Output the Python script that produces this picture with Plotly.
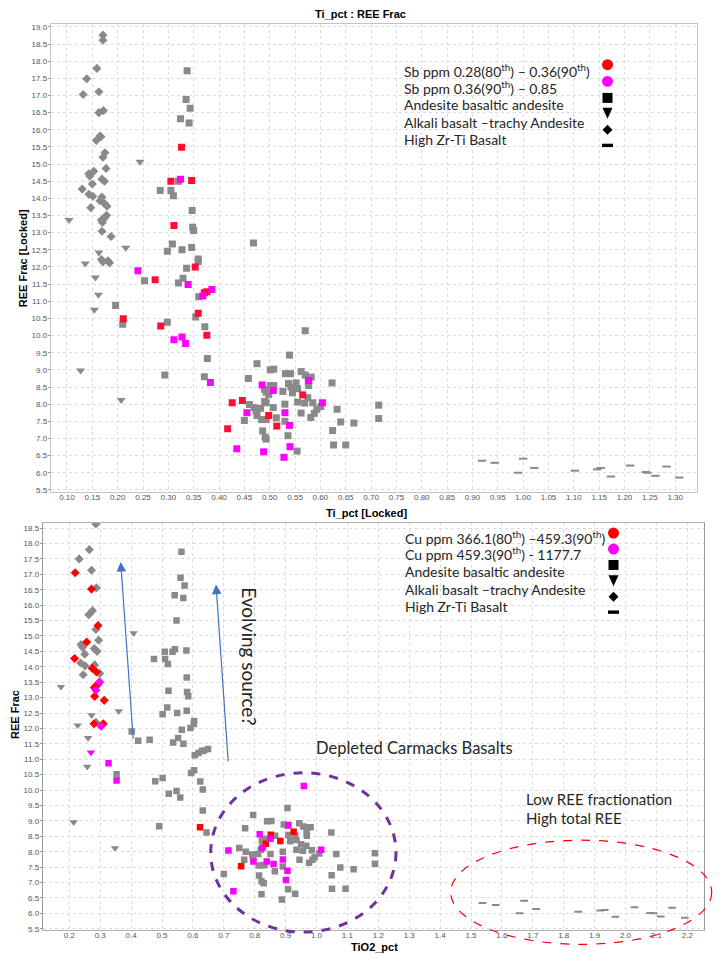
import plotly.graph_objects as go

# -- Top panel (Ti_pct vs REE Frac) --
top_sq_x = [0.337, 0.335, 0.343, 0.324, 0.341, 0.320, 0.284, 0.305, 0.310, 0.347, 0.348, 0.350, 0.468, 0.308,
            0.298, 0.327, 0.346, 0.359, 0.359, 0.336, 0.253, 0.320, 0.329, 0.360, 0.196, 0.210, 0.354, 0.372,
            0.298, 0.570, 0.377, 0.293, 0.371, 0.475, 0.539, 0.458, 0.501, 0.508, 0.531, 0.541, 0.562, 0.570,
            0.582, 0.537, 0.542, 0.501, 0.508, 0.490, 0.493, 0.552, 0.555, 0.577, 0.576, 0.526, 0.545, 0.555,
            0.569, 0.575, 0.585, 0.498, 0.490, 0.493, 0.460, 0.469, 0.473, 0.475, 0.482, 0.507, 0.530, 0.562,
            0.588, 0.593, 0.581, 0.601, 0.484, 0.493, 0.513, 0.530, 0.450, 0.486, 0.491, 0.493, 0.536, 0.554,
            0.623, 0.633, 0.640, 0.624, 0.626, 0.650, 0.666, 0.715, 0.715]
top_sq_y = [17.72, 16.88, 16.63, 16.32, 16.20, 14.50, 14.23, 14.23, 14.08, 13.65, 13.16, 13.06, 12.70, 12.67,
            12.46, 12.50, 12.57, 12.23, 12.16, 11.96, 11.60, 11.53, 11.67, 11.13, 10.88, 10.33, 10.54, 10.26,
            10.39, 10.14, 9.33, 8.85, 8.80, 9.18, 9.43, 8.75, 9.00, 9.02, 8.89, 8.89, 8.95, 8.85,
            8.79, 8.60, 8.50, 8.54, 8.54, 8.43, 8.35, 8.62, 8.45, 8.54, 8.64, 8.37, 8.33, 8.06,
            8.03, 8.19, 8.04, 8.28, 8.08, 8.04, 7.99, 7.90, 7.80, 7.67, 7.88, 7.90, 8.00, 7.74,
            7.73, 7.85, 7.61, 7.93, 7.55, 7.55, 7.60, 7.50, 7.52, 7.22, 7.04, 6.98, 7.08, 6.63,
            8.62, 7.85, 7.48, 7.23, 6.81, 6.81, 7.45, 7.97, 7.58]

top_dia_x = [0.171, 0.171, 0.159, 0.139, 0.132, 0.163, 0.172, 0.163, 0.165, 0.167, 0.158, 0.175, 0.171, 0.177,
             0.143, 0.145, 0.153, 0.169, 0.174, 0.150, 0.130, 0.143, 0.151, 0.169, 0.165, 0.174, 0.179, 0.147,
             0.178, 0.175, 0.168, 0.170, 0.169, 0.187, 0.168, 0.171, 0.181, 0.184]
top_dia_y = [18.76, 18.61, 17.79, 17.49, 17.03, 17.11, 16.56, 16.50, 15.82, 15.80, 15.69, 15.33, 15.20, 14.87,
             14.72, 14.65, 14.79, 14.56, 14.50, 14.42, 14.27, 14.12, 14.06, 14.04, 13.93, 13.85, 13.77, 13.73,
             13.51, 13.44, 13.37, 13.30, 13.04, 12.89, 12.22, 12.15, 12.18, 12.12]

top_tri_x = [0.104, 0.244, 0.216, 0.163, 0.136, 0.156, 0.162, 0.154, 0.127, 0.207]
top_tri_y = [13.37, 15.07, 12.56, 12.42, 12.10, 11.69, 11.19, 10.75, 8.98, 8.12]

top_red_x = [0.326, 0.305, 0.346, 0.311, 0.353, 0.274, 0.371, 0.376, 0.359, 0.211, 0.285, 0.376, 0.426, 0.446,
             0.565, 0.498, 0.514, 0.417]
top_red_y = [15.49, 14.50, 14.52, 13.21, 12.00, 11.63, 11.25, 11.28, 10.65, 10.49, 10.28, 10.01, 8.04, 8.11,
             8.27, 7.67, 7.36, 7.28]

top_mag_x = [0.324, 0.240, 0.339, 0.368, 0.386, 0.311, 0.327, 0.334, 0.383, 0.485, 0.507, 0.577, 0.604, 0.455,
             0.530, 0.539, 0.435, 0.488, 0.540, 0.528]
top_mag_y = [14.56, 11.89, 11.49, 11.15, 11.34, 9.88, 9.96, 9.77, 8.63, 8.56, 8.40, 8.69, 8.04, 7.75,
             7.75, 7.38, 6.70, 6.61, 6.76, 6.45]

top_dash_x = [0.919, 0.944, 1.000, 0.990, 1.022, 1.102, 1.146, 1.153, 1.173, 1.211, 1.242, 1.245, 1.261, 1.283,
              1.308]
top_dash_y = [6.35, 6.29, 6.41, 6.00, 6.14, 6.06, 6.10, 6.14, 5.89, 6.21, 6.02, 6.00, 5.91, 6.18, 5.86]

# -- Bottom panel (TiO2_pct vs REE Frac) --
bot_sq_x = [0.563, 0.560, 0.573, 0.541, 0.569, 0.547, 0.474, 0.509, 0.534, 0.542, 0.579, 0.510, 0.519, 0.580,
            0.521, 0.581, 0.585, 0.517, 0.502, 0.549, 0.580, 0.604, 0.603, 0.564, 0.592, 0.402, 0.423, 0.460,
            0.536, 0.552, 0.569, 0.606, 0.618, 0.629, 0.636, 0.649, 0.353, 0.478, 0.502, 0.594, 0.604, 0.624,
            0.632, 0.547, 0.522, 0.559, 0.632, 0.491, 0.644, 0.700, 0.769, 0.795, 0.840, 0.854, 0.906, 0.894,
            0.906, 0.909, 0.944, 0.957, 0.967, 0.981, 0.931, 0.935, 0.968, 0.969, 0.915, 0.854, 0.866, 0.823,
            0.835, 0.750, 0.771, 0.792, 0.811, 0.820, 0.828, 0.851, 0.891, 0.935, 0.950, 0.967, 0.956, 0.985,
            1.009, 0.994, 0.987, 0.976, 0.945, 0.766, 0.795, 0.813, 0.825, 0.832, 0.891, 0.865, 0.814, 0.822,
            0.829, 0.908, 0.931, 0.822, 0.888, 1.048, 1.064, 1.077, 1.049, 1.050, 1.094, 1.120, 1.189, 1.189]
bot_sq_y = [17.73, 16.89, 16.64, 16.32, 16.23, 15.50, 14.25, 14.49, 14.49, 14.57, 14.53, 14.25, 14.09, 13.65,
            13.22, 13.18, 13.04, 12.68, 12.46, 12.50, 12.57, 12.24, 12.14, 11.96, 12.01, 11.90, 11.60, 11.63,
            11.54, 11.69, 11.50, 11.13, 11.20, 11.27, 11.28, 11.33, 10.51, 10.29, 10.39, 10.55, 10.64, 10.28,
            10.02, 9.97, 9.88, 9.76, 9.34, 8.83, 8.62, 7.28, 8.76, 9.19, 8.99, 9.00, 9.42, 8.88,
            8.84, 8.54, 8.92, 8.82, 8.79, 8.79, 8.53, 8.38, 8.63, 8.52, 8.34, 8.53, 8.52, 8.36,
            8.42, 8.12, 8.00, 7.91, 7.93, 8.06, 8.17, 7.93, 8.00, 8.06, 8.24, 8.19, 8.03, 8.05,
            7.94, 7.82, 7.74, 7.64, 7.74, 7.74, 7.82, 7.55, 7.56, 7.57, 7.52, 7.37, 7.23, 7.04,
            6.98, 6.78, 6.64, 6.62, 6.45, 8.62, 7.93, 7.49, 7.24, 6.80, 6.80, 7.43, 7.95, 7.61]

bot_dia_x = [0.286, 0.265, 0.232, 0.272, 0.288, 0.275, 0.263, 0.286, 0.295, 0.238, 0.243, 0.281, 0.290, 0.250,
             0.237, 0.251, 0.282, 0.299, 0.245, 0.286]
bot_dia_y = [18.63, 17.80, 17.50, 17.13, 16.56, 15.82, 15.69, 15.21, 14.86, 14.72, 14.63, 14.59, 14.50, 14.41,
             14.12, 14.03, 14.06, 13.78, 13.74, 12.20]

bot_red_dia_x = [0.219, 0.272, 0.293, 0.256, 0.217, 0.274, 0.288, 0.281, 0.290, 0.296, 0.282, 0.313, 0.280, 0.310]
bot_red_dia_y = [17.05, 16.52, 15.34, 14.80, 14.27, 13.95, 13.83, 13.33, 13.40, 13.48, 13.04, 12.91, 12.15, 12.15]

bot_mag_dia_x = [0.298, 0.286, 0.303]
bot_mag_dia_y = [13.51, 13.24, 12.07]

bot_tri_x = [0.173, 0.408, 0.360, 0.272, 0.227, 0.261, 0.258, 0.214, 0.348]
bot_tri_y = [13.35, 15.09, 12.56, 12.43, 12.10, 11.69, 10.76, 8.96, 8.12]

bot_mag_tri_x = [0.270]
bot_mag_tri_y = [11.22]

bot_red_x = [0.623, 0.852, 0.836, 0.883, 0.926, 0.756]
bot_red_y = [8.79, 8.55, 8.26, 8.35, 8.65, 7.53]

bot_mag_x = [0.327, 0.353, 0.959, 0.816, 0.851, 0.909, 0.715, 0.824, 0.796, 0.839, 0.861, 0.891, 0.906, 0.901,
             1.015, 0.731]
bot_mag_y = [10.87, 10.31, 10.13, 8.57, 8.42, 8.87, 8.04, 8.12, 7.68, 7.68, 7.60, 7.75, 7.38, 7.08,
             8.06, 6.72]

bot_dash_x = [1.537, 1.580, 1.672, 1.657, 1.711, 1.847, 1.918, 1.933, 1.967, 2.029, 2.080, 2.091, 2.114, 2.151,
              2.192]
bot_dash_y = [6.34, 6.27, 6.41, 6.00, 6.14, 6.05, 6.09, 6.11, 5.89, 6.20, 6.01, 6.00, 5.90, 6.18, 5.86]

top_legend = ["Sb ppm 0.28(80<sup>th</sup>) \u2013 0.36(90<sup>th</sup>)",
              "Sb ppm 0.36(90<sup>th</sup>) \u2013 0.85",
              "Andesite basaltic andesite",
              "Alkali basalt \u2013trachy Andesite",
              "High Zr-Ti Basalt"]
bot_legend = ["Cu ppm 366.1(80<sup>th</sup>) \u2013459.3(90<sup>th</sup>)",
              "Cu ppm 459.3(90<sup>th</sup>) - 1177.7",
              "Andesite basaltic andesite",
              "Alkali basalt \u2013trachy Andesite",
              "High Zr-Ti Basalt"]

GRAY = '#8a8a8a'
RED = '#ff0d35'
MAG = '#ff00ff'
W, H = 720, 960
TXT_FONT = 'Lato'


def fx(p):
    return p / W


def fy(p):
    return 1 - p / H


def add_points(fig, x, y, symbol, color, size, axis):
    xa, ya = axis
    if symbol == 'line-ew':
        marker = dict(symbol=symbol, size=size, line=dict(color=color, width=2))
    else:
        marker = dict(symbol=symbol, size=size, color=color, line=dict(width=0))
    fig.add_trace(go.Scatter(x=x, y=y, mode='markers', marker=marker, xaxis=xa, yaxis=ya,
                             showlegend=False, hoverinfo='skip'))


def legend_keys(fig, cx, cys, r):
    # keys: red circle, magenta circle, square, triangle, diamond, dash
    shapes = []
    shapes.append(dict(type='circle', xref='paper', yref='paper', x0=fx(cx - r), x1=fx(cx + r),
                       y0=fy(cys[0] + r), y1=fy(cys[0] - r), fillcolor='#ff0000', line=dict(width=0)))
    shapes.append(dict(type='circle', xref='paper', yref='paper', x0=fx(cx - r), x1=fx(cx + r),
                       y0=fy(cys[1] + r), y1=fy(cys[1] - r), fillcolor=MAG, line=dict(width=0)))
    shapes.append(dict(type='rect', xref='paper', yref='paper', x0=fx(cx - 5), x1=fx(cx + 5),
                       y0=fy(cys[2] + 5), y1=fy(cys[2] - 5), fillcolor='black', line=dict(width=0)))
    t = cys[3]
    shapes.append(dict(type='path', xref='paper', yref='paper',
                       path=f'M {fx(cx - 5)} {fy(t - 5)} L {fx(cx + 5)} {fy(t - 5)} L {fx(cx)} {fy(t + 6)} Z',
                       fillcolor='black', line=dict(width=0)))
    d = cys[4]
    shapes.append(dict(type='path', xref='paper', yref='paper',
                       path=f'M {fx(cx)} {fy(d - 5)} L {fx(cx + 5)} {fy(d)} L {fx(cx)} {fy(d + 5)} L {fx(cx - 5)} {fy(d)} Z',
                       fillcolor='black', line=dict(width=0)))
    shapes.append(dict(type='rect', xref='paper', yref='paper', x0=fx(cx - 5.5), x1=fx(cx + 5.5),
                       y0=fy(cys[5] + 1.7), y1=fy(cys[5] - 1.7), fillcolor='black', line=dict(width=0)))
    for s in shapes:
        fig.add_shape(**s)


def plot_ree_panels():
    fig = go.Figure()

    # Top panel traces
    top = ('x', 'y')
    add_points(fig, top_sq_x, top_sq_y, 'square', GRAY, 7, top)
    add_points(fig, top_dia_x, top_dia_y, 'diamond', GRAY, 7, top)
    add_points(fig, top_tri_x, top_tri_y, 'triangle-down', GRAY, 8, top)
    add_points(fig, top_dash_x, top_dash_y, 'line-ew', GRAY, 6, top)
    add_points(fig, top_red_x, top_red_y, 'square', RED, 7, top)
    add_points(fig, top_mag_x, top_mag_y, 'square', MAG, 7, top)

    # Bottom panel traces
    bot = ('x2', 'y2')
    add_points(fig, bot_sq_x, bot_sq_y, 'square', GRAY, 6.5, bot)
    add_points(fig, bot_dia_x, bot_dia_y, 'diamond', GRAY, 7, bot)
    add_points(fig, bot_tri_x, bot_tri_y, 'triangle-down', GRAY, 7.5, bot)
    add_points(fig, bot_dash_x, bot_dash_y, 'line-ew', GRAY, 5.5, bot)
    add_points(fig, bot_red_dia_x, bot_red_dia_y, 'diamond', '#ff0000', 7, bot)
    add_points(fig, bot_mag_dia_x, bot_mag_dia_y, 'diamond', MAG, 7, bot)
    add_points(fig, bot_mag_tri_x, bot_mag_tri_y, 'triangle-down', MAG, 7.5, bot)
    add_points(fig, bot_red_x, bot_red_y, 'square', '#ff0000', 6.5, bot)
    add_points(fig, bot_mag_x, bot_mag_y, 'square', MAG, 6.5, bot)

    base = dict(showline=True, mirror=True, showgrid=True, gridcolor='#dcdcdc', griddash='dot', gridwidth=1,
                zeroline=False, tickfont=dict(family='Liberation Sans', size=8, color='#555555'))
    x_style = dict(ticks='', ticklabelstandoff=-3, **base)
    y_style = dict(ticks='outside', ticklen=2, tickcolor='#999999', ticklabelstandoff=-1, **base)

    fig.update_layout(
        width=W, height=H, margin=dict(l=0, r=0, t=0, b=0),
        paper_bgcolor='white', plot_bgcolor='white',
        xaxis=dict(domain=[fx(50.7), fx(697)], range=[0.0679, 1.343], dtick=0.05, tick0=0.1,
                   tickformat='.2f', anchor='y', linecolor='#c4c4c4', **x_style),
        yaxis=dict(domain=[fy(493), fy(22.7)], range=[5.44, 19.096], dtick=0.5, tick0=5.5,
                   tickformat='.1f', anchor='x', linecolor='#c4c4c4', **y_style),
        xaxis2=dict(domain=[fx(42.7), fx(704.3)], range=[0.1139, 2.255], dtick=0.1, tick0=0.2,
                    tickformat='.1f', anchor='y2', linecolor='#b0b0b0', **x_style),
        yaxis2=dict(domain=[fy(933.3), fy(524)], range=[5.447, 18.67], dtick=0.5, tick0=5.5,
                    tickformat='.1f', anchor='x2', linecolor='#999999', **y_style),
    )

    # White boxes behind the legends
    fig.add_shape(type='rect', xref='paper', yref='paper', x0=fx(393), x1=fx(623), y0=fy(163), y1=fy(57),
                  fillcolor='white', line=dict(width=0), layer='between')
    fig.add_shape(type='rect', xref='paper', yref='paper', x0=fx(392), x1=fx(623), y0=fy(638), y1=fy(525),
                  fillcolor='white', line=dict(width=0), layer='between')

    legend_keys(fig, 607.5, [64, 80.7, 97.3, 112.3, 129.3, 145], 5.5)
    legend_keys(fig, 613.5, [534.3, 550.3, 566.3, 581.7, 598.3, 613.7], 5.5)

    # Legend texts
    leg_font = dict(family=TXT_FONT, size=14, color='#262626')
    for txt, yy in zip(top_legend, [70, 86.5, 104, 121.7, 139.3]):
        fig.add_annotation(text=txt, x=fx(401.7), y=fy(yy), xref='paper', yref='paper', xanchor='left',
                           yanchor='middle', showarrow=False, font=leg_font)
    for txt, yy in zip(bot_legend, [538.3, 555, 572.7, 590.7, 607.7]):
        fig.add_annotation(text=txt, x=fx(402.7), y=fy(yy), xref='paper', yref='paper', xanchor='left',
                           yanchor='middle', showarrow=False, font=leg_font)

    # Titles
    bold = dict(family='Liberation Sans', size=11, color='black')
    fig.add_annotation(text='<b>Ti_pct : REE Frac</b>', x=fx(313), y=fy(13.3), xref='paper', yref='paper',
                       xanchor='left', yanchor='middle', showarrow=False, font=bold)
    fig.add_annotation(text='<b>Ti_pct [Locked]</b>', x=fx(366), y=fy(514), xref='paper', yref='paper',
                       xanchor='center', yanchor='middle', showarrow=False, font=bold)
    fig.add_annotation(text='<b>REE Frac [Locked]</b>', x=fx(23.3), y=fy(258), xref='paper', yref='paper',
                       xanchor='center', yanchor='middle', textangle=-90, showarrow=False, font=bold)
    fig.add_annotation(text='<b>TiO2_pct</b>', x=fx(374), y=fy(950), xref='paper', yref='paper',
                       xanchor='center', yanchor='middle', showarrow=False, font=bold)
    fig.add_annotation(text='<b>REE Frac</b>', x=fx(15), y=fy(717), xref='paper', yref='paper',
                       xanchor='center', yanchor='middle', textangle=-90, showarrow=False, font=bold)

    # Interpretation notes on the bottom panel
    fig.add_annotation(text='Evolving source?', x=fx(250), y=fy(658), xref='paper', yref='paper',
                       xanchor='center', yanchor='middle', textangle=90, showarrow=False,
                       font=dict(family=TXT_FONT, size=19, color='#262626'))
    fig.add_annotation(text='Depleted Carmacks Basalts', x=fx(314), y=fy(750), xref='paper', yref='paper',
                       xanchor='left', yanchor='middle', showarrow=False,
                       font=dict(family=TXT_FONT, size=16.5, color='#262626'))
    note = dict(family=TXT_FONT, size=15, color='#262626')
    fig.add_annotation(text='Low REE fractionation', x=fx(524.3), y=fy(801.7), xref='paper', yref='paper',
                       xanchor='left', yanchor='middle', showarrow=False, font=note)
    fig.add_annotation(text='High total REE', x=fx(524.3), y=fy(820), xref='paper', yref='paper',
                       xanchor='left', yanchor='middle', showarrow=False, font=note)

    # Blue arrows
    for hx, hy, tx, ty in [(120.7, 563.3, 133.3, 741.7), (216, 586, 228.3, 764.3)]:
        fig.add_annotation(text='', x=fx(hx), y=fy(hy), xref='paper', yref='paper', ax=tx - hx, ay=ty - hy,
                           showarrow=True, arrowhead=2, arrowsize=1.6, arrowwidth=1.2, arrowcolor='#4472c4',
                           standoff=0, startstandoff=0)

    # Ellipses
    fig.add_shape(type='circle', xref='paper', yref='paper', x0=fx(210.7), x1=fx(396), y0=fy(935), y1=fy(775),
                  line=dict(color='#7030a0', width=3, dash='dash'))
    fig.add_shape(type='circle', xref='paper', yref='paper', x0=fx(450.7), x1=fx(711.7), y0=fy(947.3),
                  y1=fy(842.7), line=dict(color='#ff0000', width=1.2, dash='dash'))

    return fig


fig = plot_ree_panels()
fig.write_html("out.html", config={'displayModeBar': False},
               post_script="document.body.style.margin='0px';")
